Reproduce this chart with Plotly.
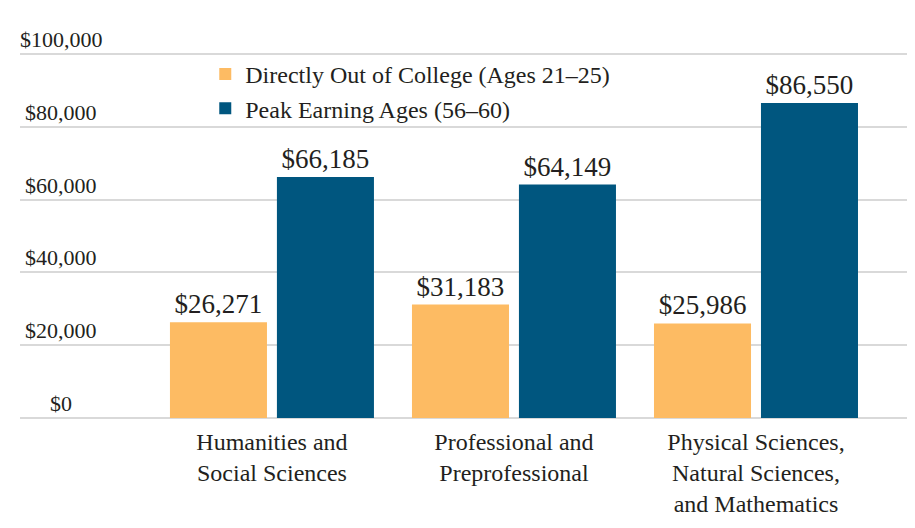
import plotly.graph_objects as go

categories = ['Humanities and<br>Social Sciences',
              'Professional and<br>Preprofessional',
              'Physical Sciences,<br>Natural Sciences,<br>and Mathematics']
early = [26271, 31183, 25986]
peak = [66185, 64149, 86550]
series_names = ['Directly Out of College (Ages 21–25)', 'Peak Earning Ages (56–60)']
y_ticks = [0, 20000, 40000, 60000, 80000, 100000]
y_labels = ['$0', '$20,000', '$40,000', '$60,000', '$80,000', '$100,000']

ORANGE = '#FDBB63'
BLUE = '#00567F'
FONT = 'Liberation Serif'
TXT = '#231F20'

fig = go.Figure()
for name, vals, col in [(series_names[0], early, ORANGE), (series_names[1], peak, BLUE)]:
    fig.add_trace(go.Bar(
        x=categories, y=vals, name=name,
        marker=dict(color=col, line=dict(width=0)),
        text=['${:,}'.format(v) for v in vals],
        textposition='outside', cliponaxis=False,
        textfont=dict(family=FONT, size=27, color=TXT),
    ))

# page is drawn with an 8px body margin, so margins are offset by 8
fig.update_layout(
    width=915, height=528,
    margin=dict(l=12, r=8, t=42, b=118),
    paper_bgcolor='white', plot_bgcolor='white',
    barmode='group', bargap=0.116, bargroupgap=0.093,
    font=dict(family=FONT, size=22, color=TXT),
    showlegend=True,
    legend=dict(x=0.207, y=0.995, xanchor='left', yanchor='top',
                font=dict(family=FONT, size=24, color=TXT),
                bgcolor='rgba(0,0,0,0)', tracegroupgap=0,
                itemwidth=30),
)
fig.update_xaxes(
    range=[-1.041, 2.657], showgrid=False, showline=False, ticks='',
    tickfont=dict(family=FONT, size=24, color=TXT),
    ticklabelstandoff=7,
)
fig.update_yaxes(
    range=[0, 101100], tickvals=y_ticks, showticklabels=False,
    showgrid=True, gridcolor='#D9D9D9', gridwidth=1.5,
    zeroline=True, zerolinecolor='#D9D9D9', zerolinewidth=2,
)
for v, lab in zip(y_ticks, y_labels):
    fig.add_annotation(x=0.046, xref='paper', y=v, yref='y',
                       text=lab, showarrow=False, xanchor='center',
                       yanchor='bottom', yshift=0,
                       font=dict(family=FONT, size=22, color=TXT))

fig.write_html("out.html")
